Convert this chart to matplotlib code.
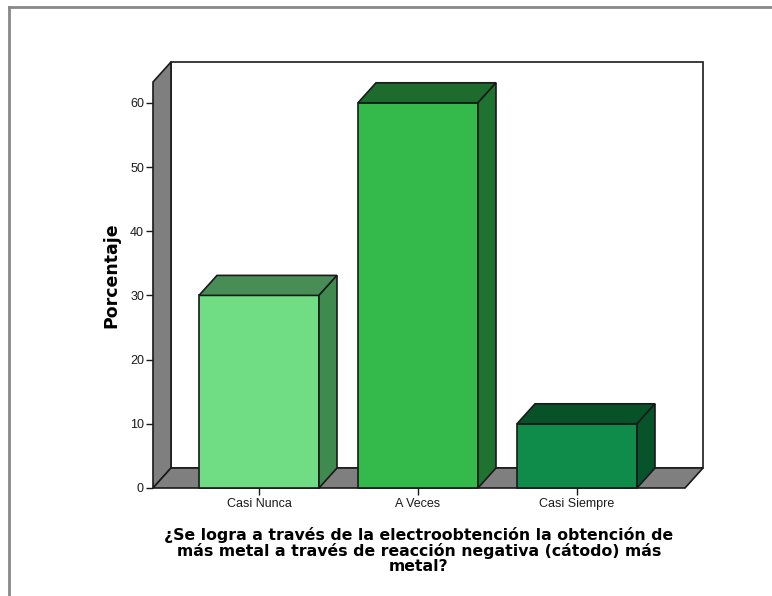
import numpy as np
import matplotlib
matplotlib.use("Agg")
from matplotlib import pyplot as plt
from matplotlib.patches import Polygon
from matplotlib.lines import Line2D

plt.rcParams['font.family'] = ['Liberation Sans', 'DejaVu Sans']

categories = ['Casi Nunca', 'A Veces', 'Casi Siempre']
porcentaje = [30, 60, 10]
yticks = [0, 10, 20, 30, 40, 50, 60]

front_colors = ['#70dd85', '#33ba4b', '#0f8b4a']
top_colors = ['#488d56', '#1e6b2e', '#075228']
side_colors = ['#3f8a4f', '#1e7331', '#07542b']
wall_color = '#7f7f7f'

W, H, DPI = 772, 596, 100
fig = plt.figure(figsize=(W / DPI, H / DPI), dpi=DPI)

# axes box in pixels: front baseline at y=488, back wall reaches x=703, y=62
left_px, right_px, top_px, base_px = 153, 703, 62, 488
ax = fig.add_axes([left_px / W, (H - base_px) / H,
                   (right_px - left_px) / W, (base_px - top_px) / H])

cat_px = 159.0          # pixels between category centres
unit_px = 6.42          # pixels per percent
x0 = -106 / cat_px      # left edge of the floor
ytop = (base_px - top_px) / unit_px
ax.set_xlim(x0, x0 + (right_px - left_px) / cat_px)
ax.set_ylim(0, ytop)

dx = 18 / cat_px        # depth offset, data units
dy = 20 / unit_px
xr = x0 + 532 / cat_px  # right edge of the front floor
bw = 120 / cat_px

ec = dict(edgecolor='#1a1a1a', linewidth=1.2, joinstyle='miter')

# back wall
ax.add_patch(Polygon([(x0 + dx, dy), (xr + dx, dy), (xr + dx, ytop), (x0 + dx, ytop)],
                     closed=True, facecolor='white', clip_on=False, **ec))
# left wall
ax.add_patch(Polygon([(x0, 0), (x0, ytop - dy), (x0 + dx, ytop), (x0 + dx, dy)],
                     closed=True, facecolor=wall_color, clip_on=False, **ec))
# floor
ax.add_patch(Polygon([(x0, 0), (xr, 0), (xr + dx, dy), (x0 + dx, dy)],
                     closed=True, facecolor=wall_color, clip_on=False, **ec))

for i, v in enumerate(porcentaje):
    a, b = i - bw / 2, i + bw / 2
    ax.add_patch(Polygon([(a, 0), (b, 0), (b, v), (a, v)], closed=True,
                         facecolor=front_colors[i], clip_on=False, **ec))
    ax.add_patch(Polygon([(a, v), (b, v), (b + dx, v + dy), (a + dx, v + dy)], closed=True,
                         facecolor=top_colors[i], clip_on=False, **ec))
    ax.add_patch(Polygon([(b, 0), (b + dx, dy), (b + dx, v + dy), (b, v)], closed=True,
                         facecolor=side_colors[i], clip_on=False, **ec))

for s in ax.spines.values():
    s.set_visible(False)
ax.set_yticks(yticks)
ax.set_yticklabels([str(t) for t in yticks])
ax.set_xticks(range(len(categories)))
ax.set_xticklabels(categories)
ax.tick_params(axis='both', direction='out', length=5, width=1, color='#1a1a1a',
               labelsize=9, labelcolor='#1a1a1a', pad=1.5)
ax.tick_params(axis='x', pad=2)
ax.patch.set_visible(False)

bold_font = dict(family=['DejaVu Sans'], fontweight='bold')
ax.set_ylabel('Porcentaje', fontsize=12.5, labelpad=7, **bold_font)

fig.text(419 / W, 1 - 527 / H,
         '¿Se logra a través de la electroobtención la obtención de\n'
         'más metal a través de reacción negativa (cátodo) más\n'
         'metal?',
         ha='center', va='top', fontsize=11.3, linespacing=1.0, **bold_font)

# outer frame lines along the top and left edge
fig.add_artist(Line2D([9 / W, 9 / W], [0, 1 - 7 / H], color='#888888', linewidth=2,
                      transform=fig.transFigure))
fig.add_artist(Line2D([9 / W, 1], [1 - 7 / H, 1 - 7 / H], color='#888888', linewidth=2,
                      transform=fig.transFigure))

fig.savefig('out.png', dpi=DPI)
